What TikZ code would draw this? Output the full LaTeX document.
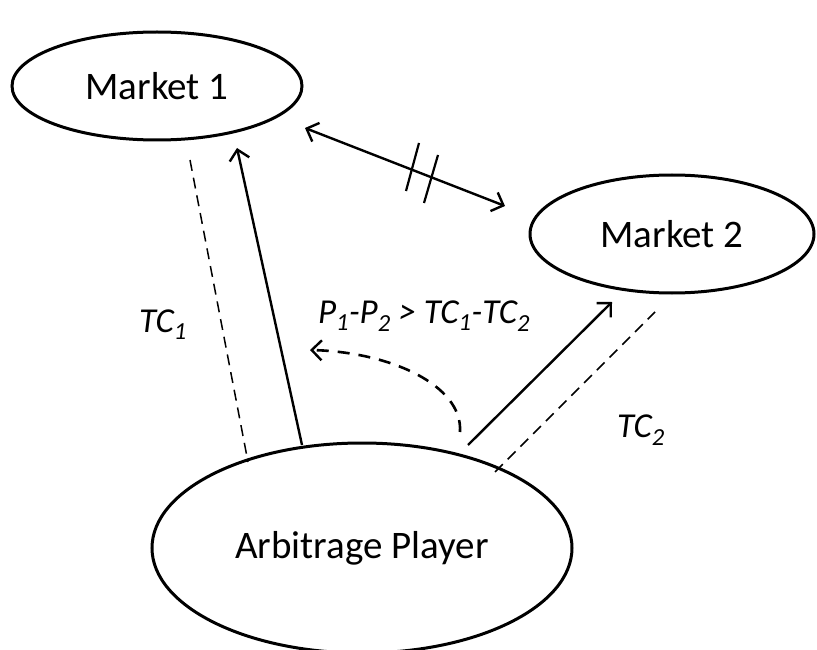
\documentclass[tikz,border=0pt]{standalone}
\usepackage{fontspec}
\setmainfont{Carlito}
\usetikzlibrary{shapes.geometric,arrows.meta}
\begin{document}
\begin{tikzpicture}[x=1pt,y=-1pt,
  market/.style={draw,ellipse,line width=3pt,inner sep=0pt,
    font=\fontsize{39}{46}\selectfont},
  label/.style={font=\fontsize{35}{42}\selectfont\itshape},
  barb/.tip={Straight Barb[length=10pt,width=20pt,line width=2.4pt]},
  tip/.style={-barb},
  link/.style={line width=2.4pt},
  cost/.style={line width=1.5pt,dash pattern=on 11pt off 7pt},
  hint/.style={line width=2.6pt,dash pattern=on 12pt off 9pt}]
\useasboundingbox (0,0) rectangle (817,650);

% the two markets and the trader between them
\node[market,minimum width=290pt,minimum height=108pt] (m1) at (157,86) {Market 1};
\node[market,minimum width=284pt,minimum height=118pt] (m2) at (672,234) {Market 2};
\node[market,minimum width=420pt,minimum height=210pt] (ap) at (362,548) {Arbitrage Player};

% end points of the links
\coordinate (q1) at (305,128);
\coordinate (q2) at (505,206);
\coordinate (d1a) at (190,160);
\coordinate (d1b) at (248,462);
\coordinate (s1a) at (302,445);
\coordinate (s1b) at (237,148);
\coordinate (s2a) at (468,445);
\coordinate (s2b) at (612,302);
\coordinate (d2a) at (495,472);
\coordinate (d2b) at (655,312);
\coordinate (ca) at (460,432);
\coordinate (cb) at (310,350);

% price link between the markets, cut by two strokes
\draw[link,barb-barb] (q1) -- (q2);
\coordinate (k1a) at (419,143);
\coordinate (k1b) at (406,191);
\coordinate (k2a) at (438,155);
\coordinate (k2b) at (424,203);
\draw[line width=2.2pt] (k1a) -- (k1b);
\draw[line width=2.2pt] (k2a) -- (k2b);

% trades and transaction costs
\draw[cost] (d1a) -- (d1b);
\draw[link,tip] (s1a) -- (s1b);
\draw[link,tip] (s2a) -- (s2b);
\draw[cost] (d2a) -- (d2b);
\draw[hint,tip] (ca) .. controls (463,385) and (390,352) .. (cb);

% labels
\node[label] (tc1) at (163,325) {TC\textsubscript{1}};
\node[label] (tc2) at (641,430) {TC\textsubscript{2}};
\node[label] (cond) at (424,316) {P\textsubscript{1}-P\textsubscript{2} > TC\textsubscript{1}-TC\textsubscript{2}};
\end{tikzpicture}
\end{document}
